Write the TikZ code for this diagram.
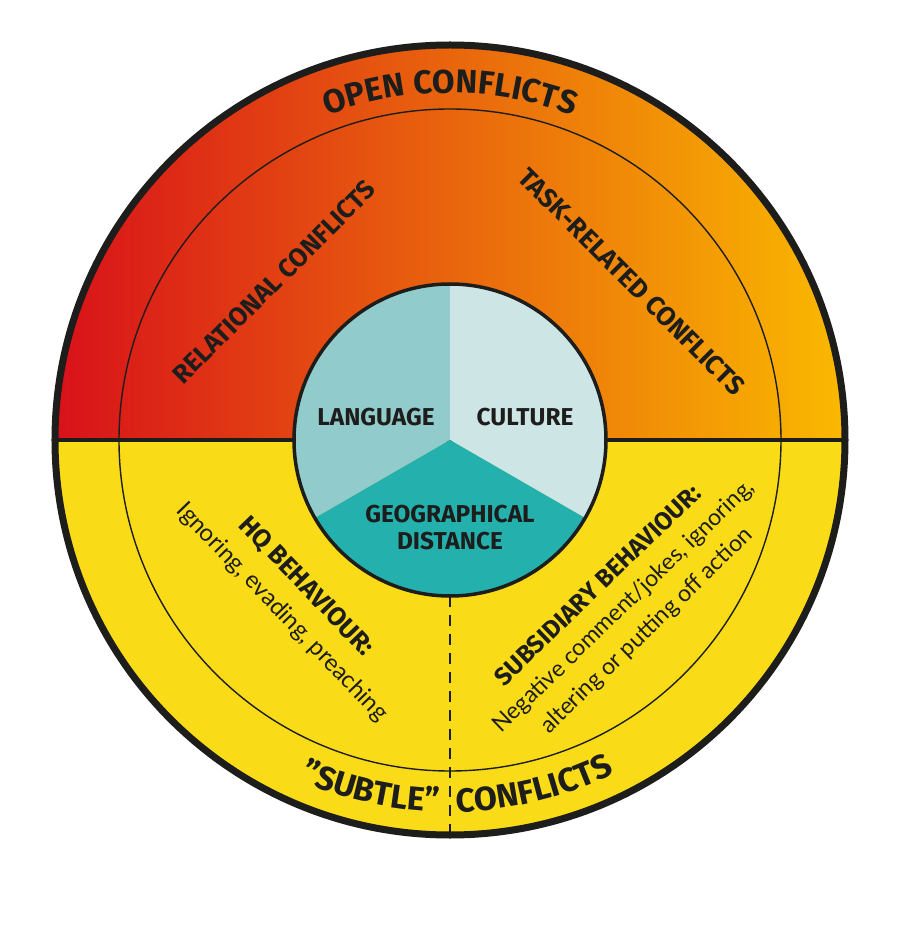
\documentclass[tikz,border=0pt]{standalone}
\usepackage{fontspec}
\setmainfont{Fira Sans}
\newfontfamily\bodyfont{Lato}
\usetikzlibrary{decorations.text}
\definecolor{ink}{HTML}{1D1D1B}
\definecolor{redL}{HTML}{D8111A}
\definecolor{orangeM}{HTML}{EA7906}
\definecolor{yellowR}{HTML}{FAB900}
\definecolor{yellowB}{HTML}{F9DC17}
\definecolor{langc}{HTML}{92CBCB}
\definecolor{cultc}{HTML}{CEE5E6}
\definecolor{geoc}{HTML}{24B1AE}
\tikzset{
  lbl/.style={font=\fontsize{24.5}{27}\selectfont\bfseries, text=ink, inner sep=0pt, align=center},
  head/.style={font=\fontsize{26}{30}\selectfont\bfseries, text=ink, inner sep=0pt},
  body/.style={font=\fontsize{24}{29}\selectfont\bodyfont, text=ink, inner sep=0pt},
}
\begin{document}
\begin{tikzpicture}
\useasboundingbox (-450bp,-500bp) rectangle (450bp,440bp);
\fill[white] (-450bp,-500bp) rectangle (450bp,440bp);
\coordinate (c) at (0,0);
% upper half (open conflicts)
\shade[left color=redL, middle color=orangeM, right color=yellowR]
  (-395bp,0) arc[start angle=180,end angle=0,radius=395bp] -- cycle;
% lower half (subtle conflicts)
\fill[yellowB] (-395bp,0) arc[start angle=180,end angle=360,radius=395bp] -- cycle;
% inner thin ring
\draw[ink, line width=1.4bp] (c) circle[radius=331bp];
% divider
\coordinate (dl) at (-395bp,0);
\coordinate (dr) at (395bp,0);
\draw[ink, line width=3.5bp] (dl) -- (dr);
% dashed divider
\coordinate (dt) at (0,-156bp);
\coordinate (db) at (0,-395bp);
\draw[ink, line width=2.5bp, dash pattern=on 11bp off 8bp] (dt) -- (db);
% central pie
\fill[langc] (c) -- (90:156bp) arc[start angle=90,end angle=210,radius=156bp] -- cycle;
\fill[cultc] (c) -- (-30:156bp) arc[start angle=-30,end angle=90,radius=156bp] -- cycle;
\fill[geoc] (c) -- (210:156bp) arc[start angle=210,end angle=330,radius=156bp] -- cycle;
\draw[ink, line width=3.5bp] (c) circle[radius=156bp];
% outer circle
\draw[ink, line width=7bp] (c) circle[radius=395bp];
% central labels
\node[lbl] (lang) at (-74bp,23bp) {LANGUAGE};
\node[lbl] (cult) at (75bp,23bp) {CULTURE};
\node[lbl] (geo) at (0,-87.5bp) {GEOGRAPHICAL\\DISTANCE};
% upper sector labels
\node[head, rotate=45] (rel) at (-176bp,158bp) {RELATIONAL CONFLICTS};
\node[head, rotate=-45, font=\fontsize{26.5}{30}\selectfont\bfseries] (task) at (181.5bp,158.5bp) {TASK-RELATED CONFLICTS};
% lower sector labels
\node[head, rotate=-46] (hq) at (-144bp,-146.5bp) {HQ BEHAVIOUR:};
\node[body, rotate=-46] (hqt) at (-168bp,-172.5bp) {Ignoring, evading, preaching};
\node[head, rotate=44, font=\fontsize{25}{30}\selectfont\bfseries] (sub) at (147.5bp,-145bp) {SUBSIDIARY BEHAVIOUR:};
\node[body, rotate=44, font=\fontsize{23.2}{29}\selectfont\bodyfont] (subt1) at (174bp,-166.5bp) {Negative comment/jokes, ignoring,};
\node[body, rotate=44, font=\fontsize{23.2}{29}\selectfont\bodyfont] (subt2) at (197bp,-191bp) {altering or putting off action};
% curved titles
\path[decorate, decoration={text along path, text align=center,
  text={|\fontsize{33}{38}\selectfont\bfseries\color{ink}|OPEN CONFLICTS}}]
  (180:347bp) arc[start angle=180,end angle=0,radius=347bp];
\path[decorate, decoration={text along path, text align=right,
  text={|\fontsize{33.5}{38}\selectfont\bfseries\color{ink}|”SUBTLE”}}]
  (215:372bp) arc[start angle=215,end angle=268.3,radius=372bp];
\path[decorate, decoration={text along path, text align=left,
  text={|\fontsize{33.5}{38}\selectfont\bfseries\color{ink}|CONFLICTS}}]
  (271:372bp) arc[start angle=271,end angle=330,radius=372bp];
\end{tikzpicture}
\end{document}
